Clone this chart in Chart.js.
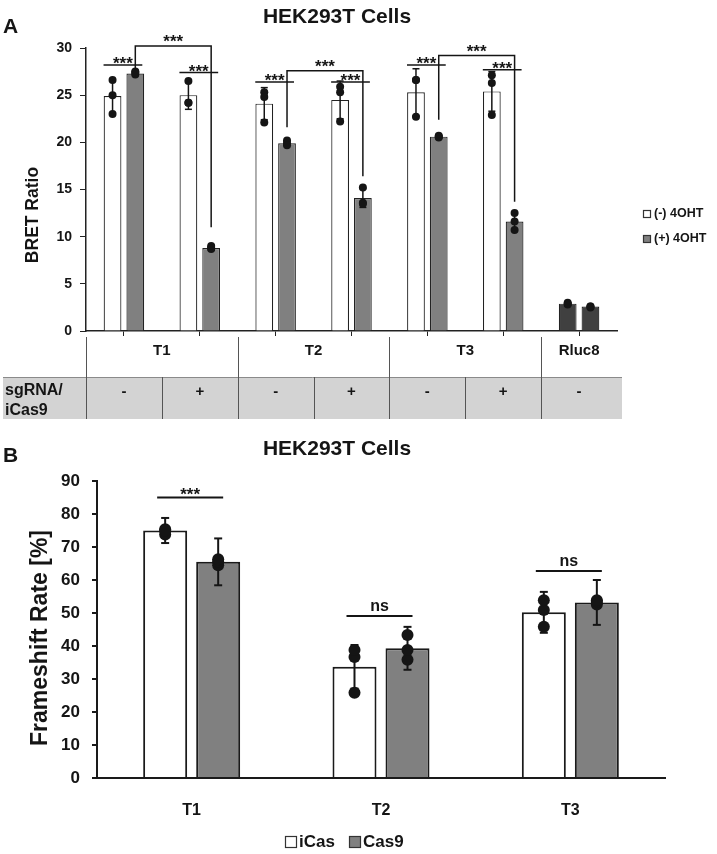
<!DOCTYPE html>
<html><head><meta charset="utf-8">
<script src="https://cdn.jsdelivr.net/npm/chart.js@4.4.1/dist/chart.umd.min.js"></script>
<style>
html,body{margin:0;padding:0;background:#fff;}
#chartA{position:absolute;left:0;top:0;}
#chartB{position:absolute;left:0;top:430px;}
</style></head><body>
<canvas id="chartA" width="717" height="430"></canvas>
<canvas id="chartB" width="717" height="424"></canvas>
<script>
// ---------------- Panel A data ----------------
const aTitle = 'HEK293T Cells';
const aYTitle = 'BRET Ratio';
const aCategories = ['T1 -', 'T1 +', 'T2 -', 'T2 +', 'T3 -', 'T3 +', 'Rluc8 -'];
const aGroups = ['T1', 'T2', 'T3', 'Rluc8'];
const aGroupSpan = [2, 2, 2, 1];
const aRowLabel = ['sgRNA/', 'iCas9'];
const aSgRNA = ['-', '+', '-', '+', '-', '+', '-'];
const aSeries = ['(-) 4OHT', '(+) 4OHT'];
const aMinus = [24.9, 25.0, 24.1, 24.5, 25.3, 25.4, 2.9];
const aMinusErr = [1.8, 1.5, 1.7, 2.0, 2.5, 2.1, 0.1];
const aMinusPts = [[26.6, 25.0, 23.0], [26.5, 24.2, 24.2], [25.3, 24.8, 22.1], [25.9, 25.3, 22.2], [26.6, 26.6, 22.7], [27.1, 26.3, 22.9], [3.0, 2.9, 2.8]];
const aPlus = [27.3, 8.8, 19.9, 14.1, 20.6, 11.6, 2.6];
const aPlusErr = [0.2, 0.2, 0.25, 1.0, 0.15, 0.9, 0.1];
const aPlusPts = [[27.2, 27.5, 27.4], [8.7, 9.0, 8.8], [19.9, 20.2, 19.7], [15.2, 13.6, 13.5], [20.7, 20.5, 20.6], [12.5, 11.6, 10.7], [2.6, 2.6, 2.5]];
const aYTicks = [0, 5, 10, 15, 20, 25, 30];
const aPairY = [28.2, 27.4, 26.4, 26.4, 28.2, 27.7];
const aPairLabel = ['***', '***', '***', '***', '***', '***'];
const aBracketFrom = [0, 2, 4];
const aBracketTo = [1, 3, 5];
const aBracketY = [30.2, 27.6, 29.2];
const aBracketLeftEnd = [27.7, 21.6, 22.4];
const aBracketRightEnd = [11.0, 16.4, 13.7];
const aBracketLabel = ['***', '***', '***'];

// ---------------- Panel B data ----------------
const bTitle = 'HEK293T Cells';
const bYTitle = 'Frameshift Rate [%]';
const bCategories = ['T1', 'T2', 'T3'];
const bSeries = ['iCas', 'Cas9'];
const bICas = [75.0, 33.7, 50.2];
const bICasErr = [3.8, 6.6, 6.2];
const bICasPts = [[73.8, 75.4, 75.0], [25.8, 36.7, 38.8], [45.8, 50.9, 53.9]];
const bCas9 = [65.5, 39.3, 53.2];
const bCas9Err = [7.1, 6.5, 6.8];
const bCas9Pts = [[64.5, 65.5, 66.3], [35.8, 38.8, 43.3], [52.6, 53.4, 53.9]];
const bYTicks = [0, 10, 20, 30, 40, 50, 60, 70, 80, 90];
const bSigY = [85, 49.1, 62.7];
const bSigLabel = ['***', 'ns', 'ns'];

// ---------------- styles ----------------
const FONT = "'Liberation Sans', Arial, Helvetica, sans-serif";
const INK = '#151515';
const WHITE = '#ffffff', GRAY = '#808080', DARK = '#404040';
Chart.defaults.font.family = FONT;
Chart.defaults.font.weight = 'bold';
Chart.defaults.color = INK;
Chart.defaults.animation = false;

function txt(ctx, s, x, y, size, align, base, rot) {
  ctx.save();
  ctx.font = 'bold ' + size + 'px ' + FONT;
  ctx.fillStyle = INK;
  ctx.textAlign = align || 'center';
  ctx.textBaseline = base || 'alphabetic';
  ctx.translate(x, y);
  if (rot) ctx.rotate(rot);
  ctx.fillText(s, 0, 0);
  ctx.restore();
}
function line(ctx, pts, lw, col) {
  ctx.save();
  ctx.strokeStyle = col || INK; ctx.lineWidth = lw;
  ctx.beginPath();
  pts.forEach((p, i) => i ? ctx.lineTo(p[0], p[1]) : ctx.moveTo(p[0], p[1]));
  ctx.stroke();
  ctx.restore();
}
function drawErrorsAndPoints(chart, series, st) {
  const ctx = chart.ctx, y = chart.scales.y;
  series.forEach((s, di) => {
    chart.getDatasetMeta(di).data.forEach((bar, i) => {
      const x = bar.x, m = s.mean[i], e = s.err[i];
      const yt = y.getPixelForValue(m + e), yb = y.getPixelForValue(m - e);
      line(ctx, [[x, yt], [x, yb]], st.lw);
      line(ctx, [[x - st.cap, yt], [x + st.cap, yt]], st.lw);
      line(ctx, [[x - st.cap, yb], [x + st.cap, yb]], st.lw);
      ctx.save(); ctx.fillStyle = INK;
      s.pts[i].forEach(v => { ctx.beginPath(); ctx.arc(x, y.getPixelForValue(v), st.r, 0, 2 * Math.PI); ctx.fill(); });
      ctx.restore();
    });
  });
}
function legendItem(ctx, x, yc, size, fill, label, fontSize, gap) {
  ctx.save();
  ctx.fillStyle = fill; ctx.strokeStyle = '#333'; ctx.lineWidth = 1.2;
  ctx.fillRect(x, yc - size / 2, size, size);
  ctx.strokeRect(x + 0.5, yc - size / 2 + 0.5, size - 1, size - 1);
  ctx.restore();
  txt(ctx, label, x + size + gap, yc, fontSize, 'left', 'middle');
}

// ---------------- Panel A ----------------
const lastA = aCategories.length - 1;
const aMinusColors = aCategories.map((c, i) => i === lastA ? DARK : WHITE);
const aPlusColors = aCategories.map((c, i) => i === lastA ? DARK : GRAY);

const panelAPlugin = {
  id: 'panelA',
  afterDatasetsDraw(chart) {
    const ctx = chart.ctx, y = chart.scales.y;
    drawErrorsAndPoints(chart, [
      {mean: aMinus, err: aMinusErr, pts: aMinusPts},
      {mean: aPlus, err: aPlusErr, pts: aPlusPts}
    ], {lw: 1.5, cap: 3.5, r: 4});
    const m0 = chart.getDatasetMeta(0).data, m1 = chart.getDatasetMeta(1).data;
    // pair lines
    aPairY.forEach((v, i) => {
      const x1 = m0[i].x - 9, x2 = m1[i].x + 7, yy = y.getPixelForValue(v);
      line(ctx, [[x1, yy], [x2, yy]], 1.5);
      txt(ctx, aPairLabel[i], (x1 + x2) / 2, yy + 4.5, 17);
    });
    // brackets
    aBracketY.forEach((v, k) => {
      const xa = m1[aBracketFrom[k]].x, xb = m1[aBracketTo[k]].x;
      const yy = y.getPixelForValue(v);
      line(ctx, [[xa, y.getPixelForValue(aBracketLeftEnd[k])], [xa, yy], [xb, yy], [xb, y.getPixelForValue(aBracketRightEnd[k])]], 1.5);
      txt(ctx, aBracketLabel[k], (xa + xb) / 2, yy + 1, 17);
    });
  },
  afterDraw(chart) {
    const ctx = chart.ctx, xs = chart.scales.x, ca = chart.chartArea;
    const step = xs.getPixelForValue(1) - xs.getPixelForValue(0);
    const bound = i => xs.getPixelForValue(0) - step / 2 + i * step;
    // titles
    txt(ctx, 'A', 3, 33, 21, 'left');
    txt(ctx, aTitle, 337, 23, 21);
    txt(ctx, aYTitle, 38, 215, 17.5, 'center', 'alphabetic', -Math.PI / 2);
    // legend
    legendItem(ctx, 643, 214, 8, WHITE, aSeries[0], 12.5, 3);
    legendItem(ctx, 643, 239, 8, GRAY, aSeries[1], 12.5, 3);
    // table row 1
    const r1Top = ca.bottom + 6, r1Bot = 377, r2Bot = 419;
    ctx.save(); ctx.fillStyle = '#d3d3d3'; ctx.fillRect(3, r1Bot, 619, r2Bot - r1Bot); ctx.restore();
    line(ctx, [[3, r1Bot + 0.5], [622, r1Bot + 0.5]], 1, '#8a8a8a');
    let c = 0;
    aGroups.forEach((g, gi) => {
      const xL = bound(c), xR = bound(c + aGroupSpan[gi]);
      line(ctx, [[Math.round(xL) + 0.5, r1Top], [Math.round(xL) + 0.5, r1Bot]], 1, '#555');
      txt(ctx, g, (xL + xR) / 2, 351, 15, 'center', 'middle');
      c += aGroupSpan[gi];
    });
    // row 2
    aSgRNA.forEach((s, i) => {
      const xL = bound(i);
      line(ctx, [[Math.round(xL) + 0.5, r1Bot], [Math.round(xL) + 0.5, r2Bot]], 1, '#555');
      txt(ctx, s, xs.getPixelForValue(i), 392, 15, 'center', 'middle');
    });
    txt(ctx, aRowLabel[0], 5, 391, 16, 'left', 'middle');
    txt(ctx, aRowLabel[1], 5, 411, 16, 'left', 'middle');
  }
};

new Chart(document.getElementById('chartA'), {
  type: 'bar',
  data: {
    labels: aCategories,
    datasets: [
      {label: aSeries[0], data: aMinus, backgroundColor: aMinusColors, borderColor: '#222', borderWidth: 1.2, categoryPercentage: 0.6, barPercentage: 0.78},
      {label: aSeries[1], data: aPlus, backgroundColor: aPlusColors, borderColor: '#222', borderWidth: 1.2, categoryPercentage: 0.6, barPercentage: 0.78}
    ]
  },
  options: {
    responsive: false, devicePixelRatio: 1,
    layout: {padding: {left: 0, top: 48, right: 100, bottom: 0}},
    plugins: {legend: {display: false}, tooltip: {enabled: false}, title: {display: false}},
    scales: {
      x: {
        grid: {display: true, offset: false, drawOnChartArea: false, drawTicks: true, tickLength: 5, color: '#222', lineWidth: 1},
        border: {display: true, color: '#222', width: 1.5},
        ticks: {display: false},
        afterFit: s => { s.height = 99; }
      },
      y: {
        min: 0, max: 30,
        afterBuildTicks: s => { s.ticks = aYTicks.map(v => ({value: v})); },
        ticks: {font: {size: 14, weight: 'bold'}, color: INK, padding: 8},
        grid: {drawOnChartArea: false, drawTicks: true, tickLength: 6, color: '#222'},
        border: {color: '#222', width: 1.5},
        afterFit: s => { s.width = 86; }
      }
    }
  },
  plugins: [panelAPlugin]
});

// ---------------- Panel B ----------------
const panelBPlugin = {
  id: 'panelB',
  afterDatasetsDraw(chart) {
    const ctx = chart.ctx, y = chart.scales.y;
    drawErrorsAndPoints(chart, [
      {mean: bICas, err: bICasErr, pts: bICasPts},
      {mean: bCas9, err: bCas9Err, pts: bCas9Pts}
    ], {lw: 2, cap: 4, r: 6});
    const m0 = chart.getDatasetMeta(0).data, m1 = chart.getDatasetMeta(1).data;
    bSigY.forEach((v, i) => {
      const x1 = m0[i].x - 8, x2 = m1[i].x + 5, yy = y.getPixelForValue(v);
      line(ctx, [[x1, yy], [x2, yy]], 2);
      const lab = bSigLabel[i];
      txt(ctx, lab, (x1 + x2) / 2, lab === 'ns' ? yy - 5 : yy + 2, lab === 'ns' ? 16 : 17);
    });
  },
  afterDraw(chart) {
    const ctx = chart.ctx;
    txt(ctx, 'B', 3, 32, 21, 'left');
    txt(ctx, bTitle, 337, 25, 21);
    txt(ctx, bYTitle, 47, 208, 23, 'center', 'alphabetic', -Math.PI / 2);
    legendItem(ctx, 285, 412, 12, WHITE, bSeries[0], 17, 2);
    legendItem(ctx, 349, 412, 12, GRAY, bSeries[1], 17, 2);
  }
};

new Chart(document.getElementById('chartB'), {
  type: 'bar',
  data: {
    labels: bCategories,
    datasets: [
      {label: bSeries[0], data: bICas, backgroundColor: WHITE, borderColor: '#1a1a1a', borderWidth: 2, categoryPercentage: 0.56, barPercentage: 0.83},
      {label: bSeries[1], data: bCas9, backgroundColor: GRAY, borderColor: '#1a1a1a', borderWidth: 2, categoryPercentage: 0.56, barPercentage: 0.83}
    ]
  },
  options: {
    responsive: false, devicePixelRatio: 1,
    layout: {padding: {left: 0, top: 51, right: 52, bottom: 0}},
    plugins: {legend: {display: false}, tooltip: {enabled: false}, title: {display: false}},
    scales: {
      x: {
        grid: {display: false},
        border: {display: true, color: '#1a1a1a', width: 2},
        ticks: {font: {size: 16, weight: 'bold'}, color: INK, padding: 15},
        afterFit: s => { s.height = 76; }
      },
      y: {
        min: 0, max: 90,
        afterBuildTicks: s => { s.ticks = bYTicks.map(v => ({value: v})); },
        ticks: {font: {size: 17, weight: 'bold'}, color: INK, padding: 12},
        grid: {drawOnChartArea: false, drawTicks: true, tickLength: 5, color: '#1a1a1a', lineWidth: 2},
        border: {color: '#1a1a1a', width: 2},
        afterFit: s => { s.width = 97; }
      }
    }
  },
  plugins: [panelBPlugin]
});
</script>
</body></html>
